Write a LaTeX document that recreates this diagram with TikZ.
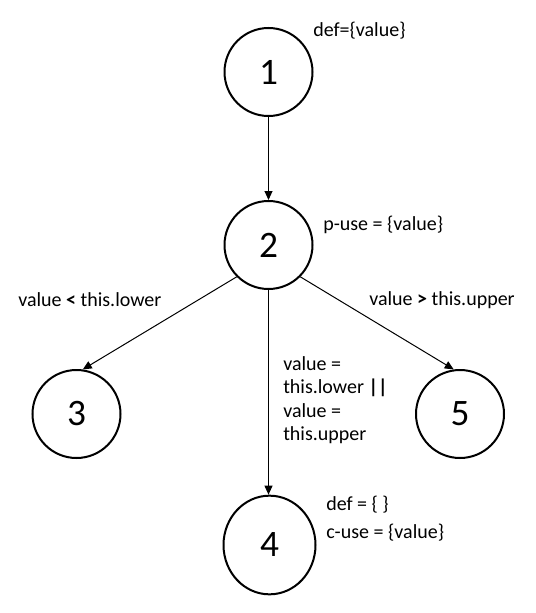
\documentclass[tikz,border=0pt]{standalone}
\usepackage{fontspec}
\setmainfont{Carlito}
\usetikzlibrary{arrows.meta,shapes.geometric}
\begin{document}
\begin{tikzpicture}[x=0.75pt,y=-0.75pt,
  statenode/.style={circle,draw,line width=1.5pt,minimum size=66pt,inner sep=0pt,font=\fontsize{28}{32}\selectfont},
  ellnode/.style={ellipse,draw,line width=1.5pt,minimum width=69pt,minimum height=74pt,inner sep=0pt,font=\fontsize{28}{32}\selectfont},
  edge/.style={line width=0.75pt,-{Triangle[length=6.75pt,width=6pt]}},
  lbl/.style={anchor=west,inner sep=0pt,font=\fontsize{15}{17.5}\selectfont}]
\useasboundingbox (0,0) rectangle (535,613);
\node[statenode] (n1) at (268.5,72) {1};
\node[statenode] (n2) at (268.5,245) {2};
\node[statenode] (n3) at (76.5,414) {3};
\node[ellnode] (n4) at (269.5,545) {4};
\node[statenode] (n5) at (460,414) {5};
\draw[edge] (n1) -- (n2);
\draw[edge] (n2.225) -- (n3.82);
\draw[edge] (n2.-45) -- (n5.98);
\draw[edge] (n2.south) -- (n2.south |- n4.north);
\node[lbl] (t1) at (313,31) {def=\{value\}};
\node[lbl] (t2) at (323,225) {p-use = \{value\}};
\node[lbl] (t3) at (18,300) {value \textbf{<} this.lower};
\node[lbl] (t4) at (369,300) {value \textbf{>} this.upper};
\node[lbl,align=left] (t5) at (283,400) {value =\\this.lower \textbf{||}\\value =\\this.upper};
\node[lbl] (t6) at (326,505) {def = \{ \}};
\node[lbl] (t7) at (326,533) {c-use = \{value\}};
\end{tikzpicture}
\end{document}
